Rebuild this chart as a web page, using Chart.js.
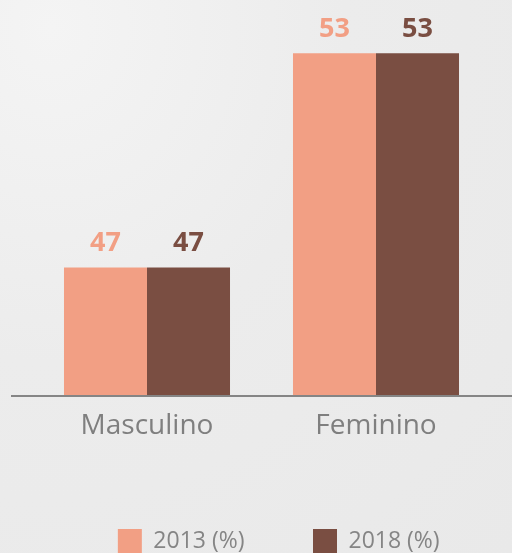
<!DOCTYPE html>
<html>
<head>
<meta charset="utf-8">
<script src="https://cdn.jsdelivr.net/npm/chart.js@4/dist/chart.umd.min.js"></script>
<style>
  html, body { margin: 0; padding: 0; }
  body {
    width: 512px; height: 553px; overflow: hidden;
    background: radial-gradient(ellipse at 10% 5%, #f4f4f4 0%, #ececec 45%, #e9e9e9 100%);
  }
  canvas { display: block; }
</style>
</head>
<body>
<canvas id="c" width="512" height="553"></canvas>
<script>
const categories = ["Masculino", "Feminino"];
const seriesNames = ["2013 (%)", "2018 (%)"];
const values2013 = [47, 53];
const values2018 = [47, 53];
const yMin = 43.4;
const yMax = 54;

const colors = ["#f29f84", "#7a4e42"];

const valueLabels = {
  id: 'valueLabels',
  afterDatasetsDraw(chart) {
    const ctx = chart.ctx;
    ctx.save();
    ctx.font = "bold 27px 'Open Sans', sans-serif";
    ctx.textAlign = 'center';
    ctx.textBaseline = 'alphabetic';
    chart.data.datasets.forEach((ds, i) => {
      const meta = chart.getDatasetMeta(i);
      meta.data.forEach((bar, j) => {
        ctx.fillStyle = ds.backgroundColor;
        ctx.fillText(String(ds.data[j]), bar.x, bar.y - 16);
      });
    });
    ctx.restore();
  }
};

const baseLine = {
  id: 'baseLine',
  afterDatasetsDraw(chart) {
    const ctx = chart.ctx;
    const y = chart.scales.y.getPixelForValue(yMin);
    ctx.save();
    ctx.strokeStyle = '#858585';
    ctx.lineWidth = 2;
    ctx.beginPath();
    ctx.moveTo(11, y);
    ctx.lineTo(512, y);
    ctx.stroke();
    ctx.restore();
  }
};

new Chart(document.getElementById('c'), {
  type: 'bar',
  data: {
    labels: categories,
    datasets: [
      { label: seriesNames[0], data: values2013, backgroundColor: colors[0], borderWidth: 0 },
      { label: seriesNames[1], data: values2018, backgroundColor: colors[1], borderWidth: 0 }
    ]
  },
  options: {
    responsive: false,
    animation: false,
    devicePixelRatio: 1,
    layout: { padding: { left: 32.5, right: -13, top: 17.5, bottom: -10 } },
    datasets: { bar: { barPercentage: 1, categoryPercentage: 0.725 } },
    scales: {
      x: {
        grid: { display: false },
        border: { display: false },
        ticks: {
          color: '#7f7f7f',
          font: { family: "'Open Sans', sans-serif", size: 28 },
          padding: 5
        },
        afterFit(scale) { scale.height = 64.5; }
      },
      y: {
        position: 'right',
        min: yMin,
        max: yMax,
        grid: { display: false },
        border: { display: false },
        ticks: { display: false },
        afterFit(scale) { scale.width = 34.5; }
      }
    },
    plugins: {
      tooltip: { enabled: false },
      legend: {
        position: 'bottom',
        labels: {
          boxWidth: 24,
          boxHeight: 24,
          padding: 68.5,
          color: '#858585',
          font: { family: "'Open Sans', sans-serif", size: 23 }
        }
      }
    }
  },
  plugins: [valueLabels, baseLine]
});
</script>
</body>
</html>
